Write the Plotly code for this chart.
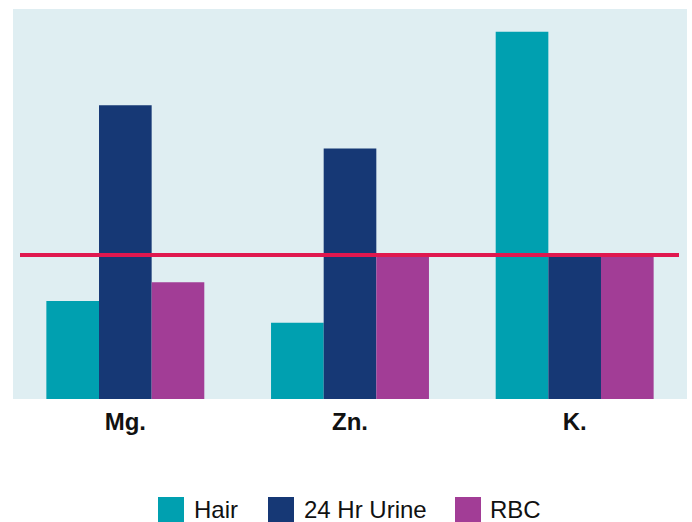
import plotly.graph_objects as go

# Mineral levels by sample type, expressed relative to the normal level (100)
minerals = ["Mg.", "Zn.", "K."]
hair = [68, 53, 255]
urine_24hr = [204, 174, 100]
rbc = [81, 100, 100]
normal_level = 100

series_names = ["Hair", "24 Hr Urine", "RBC"]
series_values = [hair, urine_24hr, rbc]
series_colors = ["#00a0b0", "#163875", "#a23d96"]

W, H = 692, 522
M_L, M_R, M_T, M_B = 13, 5, 9, 123
PLOT_W = W - M_L - M_R
PLOT_H = H - M_T - M_B


def px_to_paper_x(px):
    return (px - M_L) / PLOT_W


def px_to_paper_y(py):
    return (H - M_B - py) / PLOT_H


fig = go.Figure()
for name, vals, col in zip(series_names, series_values, series_colors):
    fig.add_trace(go.Bar(
        x=minerals, y=vals, name=name,
        marker=dict(color=col, line=dict(width=0)),
        showlegend=False,
    ))

# Normal-level reference line
fig.add_shape(
    type="line", xref="paper", yref="y",
    x0=px_to_paper_x(20), x1=px_to_paper_x(679),
    y0=normal_level, y1=normal_level,
    line=dict(color="#e0184f", width=4),
    layer="above",
)

# Legend drawn below the plot: square swatch + label per series
legend_items = [(158, 192), (268, 302), (455, 488)]
for (sx, tx), name, col in zip(legend_items, series_names, series_colors):
    fig.add_shape(
        type="rect", xref="paper", yref="paper",
        x0=px_to_paper_x(sx), x1=px_to_paper_x(sx + 26),
        y0=px_to_paper_y(522), y1=px_to_paper_y(497),
        fillcolor=col, line=dict(width=0),
    )
    fig.add_annotation(
        xref="paper", yref="paper",
        x=px_to_paper_x(tx), y=px_to_paper_y(510),
        text=name, showarrow=False,
        xanchor="left", yanchor="middle",
        font=dict(family="Liberation Sans, Arial, sans-serif", size=24, color="#111111"),
    )

fig.update_layout(
    width=W, height=H,
    margin=dict(l=M_L, r=M_R, t=M_T, b=M_B),
    paper_bgcolor="white",
    plot_bgcolor="#dfeef2",
    barmode="group",
    bargap=0.297,
    bargroupgap=0,
    showlegend=False,
    xaxis=dict(
        range=[-0.5, 2.5],
        showgrid=False, zeroline=False, showline=False,
        ticks="", ticklabelstandoff=6,
        tickfont=dict(family="Liberation Sans, Arial, sans-serif", size=24, color="#111111", weight="bold"),
    ),
    yaxis=dict(
        range=[0, 270.8],
        showgrid=False, zeroline=False, showline=False,
        showticklabels=False, ticks="",
    ),
)

fig.write_html("out.html")
